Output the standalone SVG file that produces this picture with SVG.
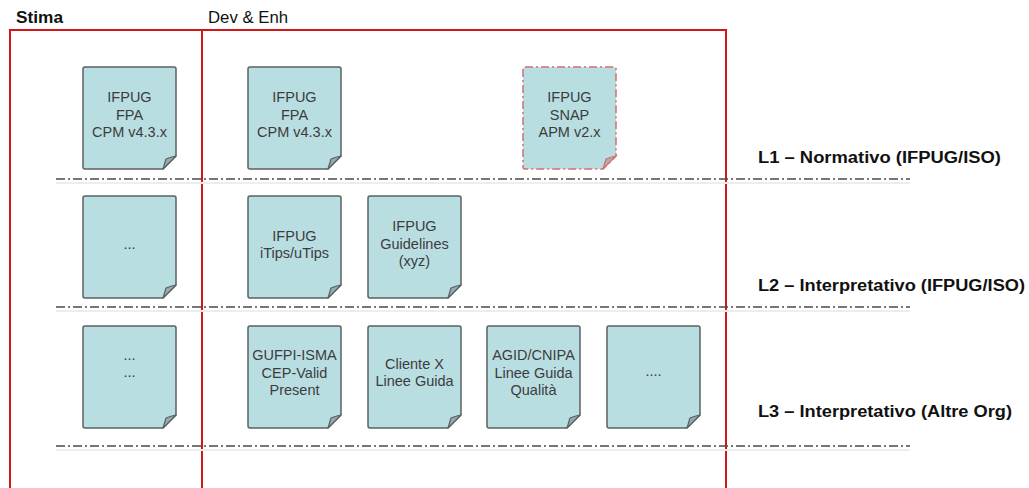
<svg xmlns="http://www.w3.org/2000/svg" width="1029" height="488" viewBox="0 0 1029 488">
<defs>
<style>
.col{fill:none;stroke:#d01818;stroke-width:2}
.sep{fill:none;stroke:#4a4a4a;stroke-width:1.5;stroke-dasharray:9 3 2 3}
.sepsh{fill:none;stroke:#ededed;stroke-width:2}
.body{fill:#b9dee2;stroke:#5a6262;stroke-width:1.5;stroke-linejoin:round}
.fold{fill:#96abb0;stroke:#5a6262;stroke-width:1.2;stroke-linejoin:round}
.snapb{fill:#b9dee2;stroke:#d07070;stroke-width:1.5;stroke-dasharray:8 3 2 3}
.snapf{fill:#b9a8ac;stroke:#d07070;stroke-width:1.2}
.nt{font-family:"Liberation Sans",Arial,sans-serif;font-size:14.5px;fill:#3c3c3c;text-anchor:middle}
.hd{font-family:"Liberation Sans",Arial,sans-serif;font-size:16px;fill:#111}
.b{font-weight:bold}
</style>
<path id="note" d="M2,0 H91 Q93,0 93,2 V89 L80,102 H2 Q0,102 0,100 V2 Q0,0 2,0 Z"/>
<path id="flap" d="M80,102 L83,92 Q88,90 93,89 Z"/>
</defs>

<g id="columns">
<rect class="col" x="10" y="30" width="192" height="470"/>
<rect class="col" x="202" y="30" width="524" height="470"/>
</g>

<g id="headers">
<text class="hd b" x="16" y="23" textLength="47" lengthAdjust="spacingAndGlyphs">Stima</text>
<text class="hd" x="208" y="23" textLength="80" lengthAdjust="spacingAndGlyphs">Dev &amp; Enh</text>
</g>

<g id="separators">
<line class="sepsh" x1="56" y1="183" x2="910" y2="183"/>
<line class="sep" x1="56" y1="179" x2="910" y2="179"/>
<line class="sepsh" x1="56" y1="311" x2="910" y2="311"/>
<line class="sep" x1="56" y1="307" x2="910" y2="307"/>
<line class="sepsh" x1="56" y1="450" x2="910" y2="450"/>
<line class="sep" x1="56" y1="446" x2="910" y2="446"/>
</g>

<g id="levels">
<text class="hd b" x="758" y="163" textLength="243" lengthAdjust="spacingAndGlyphs">L1 – Normativo (IFPUG/ISO)</text>
<text class="hd b" x="758" y="291" textLength="267" lengthAdjust="spacingAndGlyphs">L2 – Interpretativo (IFPUG/ISO)</text>
<text class="hd b" x="758" y="417" textLength="254" lengthAdjust="spacingAndGlyphs">L3 – Interpretativo (Altre Org)</text>
</g>

<g id="stima-fpa" transform="translate(83,67)">
<use href="#note" class="body"/><use href="#flap" class="fold"/>
<text class="nt"><tspan x="46.5" y="35">IFPUG</tspan><tspan x="46.5" y="52.5">FPA</tspan><tspan x="46.5" y="70">CPM v4.3.x</tspan></text>
</g>

<g id="dev-fpa" transform="translate(248,67)">
<use href="#note" class="body"/><use href="#flap" class="fold"/>
<text class="nt"><tspan x="46.5" y="35">IFPUG</tspan><tspan x="46.5" y="52.5">FPA</tspan><tspan x="46.5" y="70">CPM v4.3.x</tspan></text>
</g>

<g id="dev-snap" transform="translate(523,67)">
<use href="#note" class="snapb"/><use href="#flap" class="snapf"/>
<text class="nt"><tspan x="46.5" y="35">IFPUG</tspan><tspan x="46.5" y="52.5">SNAP</tspan><tspan x="46.5" y="70">APM v2.x</tspan></text>
</g>

<g id="stima-l2" transform="translate(83,196)">
<use href="#note" class="body"/><use href="#flap" class="fold"/>
<text class="nt"><tspan x="46.5" y="53">...</tspan></text>
</g>

<g id="dev-itips" transform="translate(248,196)">
<use href="#note" class="body"/><use href="#flap" class="fold"/>
<text class="nt"><tspan x="46.5" y="45">IFPUG</tspan><tspan x="46.5" y="62">iTips/uTips</tspan></text>
</g>

<g id="dev-guidelines" transform="translate(368,196)">
<use href="#note" class="body"/><use href="#flap" class="fold"/>
<text class="nt"><tspan x="46.5" y="35">IFPUG</tspan><tspan x="46.5" y="52.5">Guidelines</tspan><tspan x="46.5" y="70">(xyz)</tspan></text>
</g>

<g id="stima-l3" transform="translate(83,326)">
<use href="#note" class="body"/><use href="#flap" class="fold"/>
<text class="nt"><tspan x="46.5" y="34">...</tspan><tspan x="46.5" y="51">...</tspan></text>
</g>

<g id="dev-gufpi" transform="translate(248,326)">
<use href="#note" class="body"/><use href="#flap" class="fold"/>
<text class="nt"><tspan x="46.5" y="34">GUFPI-ISMA</tspan><tspan x="46.5" y="51.5">CEP-Valid</tspan><tspan x="46.5" y="69">Present</tspan></text>
</g>

<g id="dev-cliente" transform="translate(368,326)">
<use href="#note" class="body"/><use href="#flap" class="fold"/>
<text class="nt"><tspan x="46.5" y="43">Cliente X</tspan><tspan x="46.5" y="60">Linee Guida</tspan></text>
</g>

<g id="dev-agid" transform="translate(487,326)">
<use href="#note" class="body"/><use href="#flap" class="fold"/>
<text class="nt"><tspan x="46.5" y="34">AGID/CNIPA</tspan><tspan x="46.5" y="51.5">Linee Guida</tspan><tspan x="46.5" y="69">Qualità</tspan></text>
</g>

<g id="dev-more" transform="translate(607,326)">
<use href="#note" class="body"/><use href="#flap" class="fold"/>
<text class="nt"><tspan x="46.5" y="50">....</tspan></text>
</g>
</svg>
